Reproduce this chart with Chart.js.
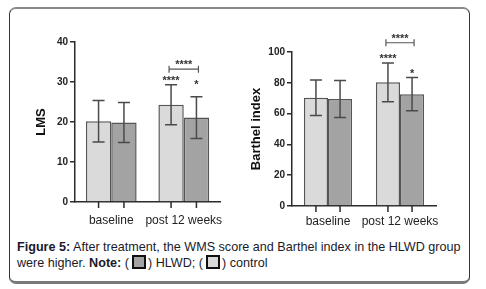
<!DOCTYPE html>
<html>
<head>
<meta charset="utf-8">
<script src="https://cdn.jsdelivr.net/npm/chart.js@4"></script>
<style>
  body { margin: 0; background: #fff; width: 486px; height: 289px; overflow: hidden; font-family: "Liberation Sans", Arial, sans-serif; }
  #frame { position: absolute; left: 9px; top: 7px; width: 459px; height: 272px;
    border-left: 1px solid #333; border-right: 1px solid #333;
    border-top: 2px solid #8a8a8a; border-bottom: 3px solid #7a7a7a; border-radius: 7px; }
  canvas { position: absolute; }
  #c1 { left: 0; top: 0; }
  #c2 { left: 243px; top: 0; }
  #caption { position: absolute; left: 17px; top: 240px; font-size: 12.6px; line-height: 15px; color: #1a1a2a; white-space: nowrap; }
  .box { display: inline-block; width: 10px; height: 10px; border: 2px solid #111; vertical-align: -2px; margin: 0 2px 0 3px; }
</style>
</head>
<body>
<div id="frame"></div>
<canvas id="c1" width="243" height="234"></canvas>
<canvas id="c2" width="243" height="234"></canvas>
<div id="caption"><b>Figure 5:</b> After treatment, the WMS score and Barthel index in the HLWD group<br>were higher. <b>Note:</b> (<span class="box" style="background:#a3a3a3"></span>) HLWD; (<span class="box" style="background:#dadada"></span>) control</div>
<script>
const categories = ['baseline', 'post 12 weeks'];

// LMS panel
const lmsControl = [20.2, 24.3];
const lmsControlSd = [5.2, 5.0];
const lmsHlwd = [19.9, 21.1];
const lmsHlwdSd = [5.0, 5.2];
const lmsTicks = [0, 10, 20, 30, 40];
const lmsMarks = ['****', '*'];      // post 12 weeks: control bar, HLWD bar
const lmsMarkAt = [29.6, 28.5];
const lmsBracketAt = 33.2;

// Barthel panel
const barthelControl = [70.3, 80.3];
const barthelControlSd = [11.5, 12.6];
const barthelHlwd = [69.5, 72.6];
const barthelHlwdSd = [12.0, 10.8];
const barthelTicks = [0, 20, 40, 60, 80, 100];
const barthelMarks = ['****', '*'];
const barthelMarkAt = [93.3, 83.6];
const barthelBracketAt = 106;

const bracketMark = '****';

const ink = '#2b2b2b';

const errorBars = {
  id: 'errorBars',
  afterDatasetsDraw(chart, args, opts) {
    const ctx = chart.ctx;
    const y = chart.scales.y;
    const bottom = chart.chartArea.bottom;
    ctx.save();
    ctx.strokeStyle = '#4a4a4a';
    ctx.lineWidth = 1.5;
    chart.data.datasets.forEach((ds, i) => {
      chart.getDatasetMeta(i).data.forEach((bar, j) => {
        const hi = y.getPixelForValue(ds.data[j] + ds.sd[j]);
        const lo = y.getPixelForValue(ds.data[j] - ds.sd[j]);
        ctx.beginPath();
        ctx.moveTo(bar.x, hi); ctx.lineTo(bar.x, lo);
        ctx.moveTo(bar.x - 6, hi); ctx.lineTo(bar.x + 6, hi);
        ctx.moveTo(bar.x - 6, lo); ctx.lineTo(bar.x + 6, lo);
        ctx.stroke();
        // tick under the axis at bar centre
        ctx.save();
        ctx.strokeStyle = ink;
        ctx.beginPath();
        ctx.moveTo(bar.x, bottom); ctx.lineTo(bar.x, bottom + 6);
        ctx.stroke();
        ctx.restore();
      });
    });

    // significance marks on the post 12 weeks bars
    const a = chart.getDatasetMeta(0).data[1];
    const b = chart.getDatasetMeta(1).data[1];
    ctx.fillStyle = '#333';
    ctx.font = 'bold 11px "Liberation Sans", Arial, sans-serif';
    ctx.textAlign = 'center';
    ctx.textBaseline = 'alphabetic';
    ctx.fillText(opts.marks[0], a.x, y.getPixelForValue(opts.markAt[0]));
    ctx.fillText(opts.marks[1], b.x, y.getPixelForValue(opts.markAt[1]));

    const by = y.getPixelForValue(opts.bracketAt);
    ctx.strokeStyle = '#555';
    ctx.lineWidth = 1.2;
    ctx.beginPath();
    ctx.moveTo(a.x - 2, by); ctx.lineTo(b.x + 2, by);
    ctx.moveTo(a.x - 2, by - 3.5); ctx.lineTo(a.x - 2, by + 3.5);
    ctx.moveTo(b.x + 2, by - 3.5); ctx.lineTo(b.x + 2, by + 3.5);
    ctx.stroke();
    ctx.fillText(bracketMark, (a.x + b.x) / 2, by - 1);
    ctx.restore();
  }
};

function makeChart(id, control, controlSd, hlwd, hlwdSd, ticks, title, layout, marks) {
  const max = ticks[ticks.length - 1];
  return new Chart(document.getElementById(id), {
    type: 'bar',
    data: {
      labels: categories,
      datasets: [
        { label: 'control', data: control, sd: controlSd, backgroundColor: '#dadada',
          borderColor: '#555', borderWidth: 1.5, borderSkipped: 'bottom' },
        { label: 'HLWD', data: hlwd, sd: hlwdSd, backgroundColor: '#a3a3a3',
          borderColor: '#555', borderWidth: 1.5, borderSkipped: 'bottom' }
      ]
    },
    options: {
      responsive: false,
      animation: false,
      categoryPercentage: layout.cat,
      barPercentage: 1.0,
      layout: { padding: layout.padding },
      plugins: {
        legend: { display: false },
        tooltip: { enabled: false },
        errorBars: marks
      },
      scales: {
        x: {
          grid: { display: false, drawTicks: false },
          border: { display: true, color: ink, width: 1.5 },
          ticks: { color: '#222', padding: layout.xPad, autoSkip: false, maxRotation: 0, minRotation: 0,
            font: { size: 12, family: '"Liberation Sans", Arial, sans-serif' } },
          afterFit: (s) => { s.height = layout.xHeight; }
        },
        y: {
          min: 0,
          max: max,
          afterBuildTicks: (s) => { s.ticks = ticks.map(v => ({ value: v })); },
          grid: { drawOnChartArea: false, drawTicks: true, tickLength: 5, color: ink, lineWidth: 1.5 },
          border: { display: true, color: ink, width: 1.5 },
          ticks: { color: '#222', padding: 2, font: { size: 10, weight: 'bold', family: '"Liberation Sans", Arial, sans-serif' } },
          title: { display: true, text: title, color: '#111', padding: 0,
            font: { size: 13, weight: 'bold', family: '"Liberation Sans", Arial, sans-serif' } },
          afterFit: (s) => { s.width = layout.yWidth; }
        }
      }
    },
    plugins: [errorBars]
  });
}

makeChart('c1', lmsControl, lmsControlSd, lmsHlwd, lmsHlwdSd, lmsTicks, 'LMS',
  { cat: 0.7, padding: { top: 42, left: 34, right: 23, bottom: 0 }, yWidth: 41, xHeight: 32, xPad: 11 },
  { marks: lmsMarks, markAt: lmsMarkAt, bracketAt: lmsBracketAt });

makeChart('c2', barthelControl, barthelControlSd, barthelHlwd, barthelHlwdSd, barthelTicks, 'Barthel index',
  { cat: 0.67, padding: { top: 52, left: 6, right: 50, bottom: 0 }, yWidth: 43, xHeight: 28, xPad: 8 },
  { marks: barthelMarks, markAt: barthelMarkAt, bracketAt: barthelBracketAt });
</script>
</body>
</html>
